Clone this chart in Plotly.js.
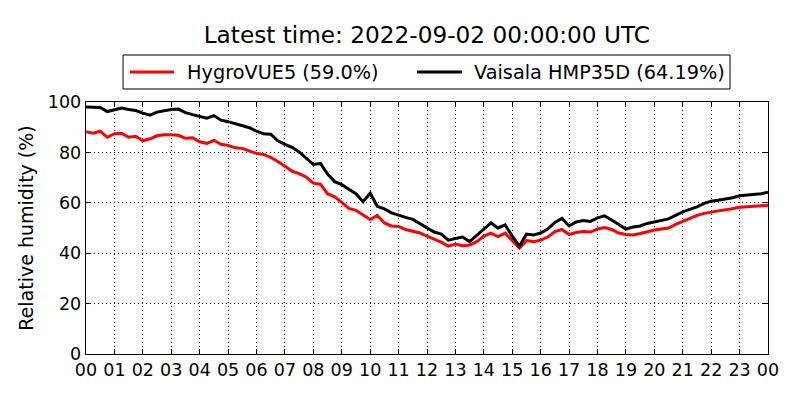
<!DOCTYPE html>
<html>
<head>
<meta charset="utf-8">
<script src="https://cdn.plot.ly/plotly-3.0.1.min.js"></script>
<style>html,body{margin:0;padding:0;background:#fff;}#chart{width:800px;height:400px;}</style>
</head>
<body>
<div id="chart"></div>
<script>
// 15-minute samples from 2022-09-01 00:00 to 2022-09-02 00:00 UTC
var startTime = '2022-09-01T00:00:00Z';
var stepMinutes = 15;

var hygroVUE5 = [
  88.2, 87.6, 88.4, 86.0, 87.4, 87.6, 86.0, 86.4, 84.6, 85.4, 86.6, 87.0,
  87.0, 86.8, 85.6, 85.8, 84.2, 83.6, 84.8, 83.2, 82.8, 81.8, 81.6, 80.6,
  79.6, 79.2, 78.0, 76.4, 74.6, 72.6, 71.6, 70.2, 67.8, 67.4, 63.6, 62.4,
  60.2, 57.8, 57.0, 55.2, 53.4, 55.0, 52.0, 50.8, 50.6, 49.4, 48.8, 48.0,
  46.8, 45.6, 44.4, 42.8, 43.6, 43.0, 43.2, 44.6, 46.8, 48.0, 46.6, 48.0,
  44.8, 42.0, 45.0, 44.6, 45.2, 46.4, 48.6, 49.4, 47.4, 48.2, 48.6, 48.4,
  49.6, 50.2, 49.4, 48.0, 47.4, 47.2, 47.8, 48.6, 49.2, 49.6, 50.0, 51.4,
  52.6, 53.8, 55.0, 55.8, 56.4, 56.8, 57.2, 57.8, 58.2, 58.4, 58.6, 59.0,
  59.0
];

var vaisalaHMP35D = [
  98.0, 97.8, 97.8, 96.2, 97.0, 97.6, 97.0, 96.6, 95.6, 94.8, 96.0, 96.6,
  97.0, 97.2, 95.8, 95.0, 94.2, 93.6, 94.6, 92.8, 92.2, 91.4, 90.6, 89.8,
  88.4, 87.4, 87.2, 84.6, 83.2, 82.0, 80.2, 77.6, 75.2, 75.6, 71.4, 68.4,
  67.2, 65.4, 63.6, 60.4, 63.8, 58.6, 57.6, 56.0, 55.0, 54.2, 53.4, 51.8,
  50.2, 48.4, 47.6, 45.2, 45.8, 46.4, 44.6, 47.0, 49.6, 52.0, 50.0, 51.2,
  46.8, 42.8, 47.6, 47.2, 48.0, 49.6, 52.2, 53.8, 50.8, 52.4, 53.0, 52.6,
  54.0, 54.8, 53.2, 51.4, 49.6, 50.4, 50.8, 51.8, 52.4, 53.0, 53.6, 55.0,
  56.4, 57.4, 58.4, 59.8, 60.6, 61.0, 61.4, 62.0, 62.8, 63.0, 63.2, 63.6,
  64.19
];

var seriesNames = ['HygroVUE5 (59.0%)', 'Vaisala HMP35D (64.19%)'];
var seriesColors = ['#ff0000', '#000000'];
var yTickVals = [0, 20, 40, 60, 80, 100];
var titleText = 'Latest time: 2022-09-02 00:00:00 UTC';
var yTitle = 'Relative humidity (%)';

function times(n) {
  var t0 = Date.parse(startTime);
  var out = [];
  for (var i = 0; i < n; i++) {
    var d = new Date(t0 + i * stepMinutes * 60000);
    out.push(d.toISOString().replace('T', ' ').replace('Z', '').slice(0, 19));
  }
  return out;
}

var font = 'DejaVu Sans, sans-serif';
var traces = [hygroVUE5, vaisalaHMP35D].map(function (vals, k) {
  return {
    type: 'scatter', mode: 'lines',
    x: times(vals.length), y: vals,
    name: seriesNames[k],
    line: {color: seriesColors[k], width: 3},
    showlegend: false
  };
});

// Legend drawn as a boxed key above the plot (matplotlib style)
var legendBox = {x0: 0.0543, x1: 0.9443, y0: 1.0516, y1: 1.1865};
var legendY = 1.119;
var legendLineX = [[0.0645, 0.1290], [0.4853, 0.5513]];
var legendTextX = [0.1466, 0.5675];

var shapes = [{
  type: 'rect', xref: 'paper', yref: 'paper',
  x0: legendBox.x0, x1: legendBox.x1, y0: legendBox.y0, y1: legendBox.y1,
  line: {color: '#000', width: 1}, fillcolor: '#fff'
}];
var annotations = [];
seriesNames.forEach(function (name, k) {
  shapes.push({
    type: 'line', xref: 'paper', yref: 'paper',
    x0: legendLineX[k][0], x1: legendLineX[k][1], y0: legendY, y1: legendY,
    line: {color: seriesColors[k], width: 3}
  });
  annotations.push({
    xref: 'paper', yref: 'paper', x: legendTextX[k], y: legendY,
    xanchor: 'left', yanchor: 'middle', showarrow: false, text: name,
    font: {family: font, size: 19.3, color: '#000'}, borderpad: 0
  });
});

var axisCommon = {
  showline: true, linecolor: '#000', linewidth: 1.3, mirror: 'ticks',
  ticks: 'inside', ticklen: 5, tickcolor: '#000', tickwidth: 1,
  showgrid: true, gridcolor: '#000', gridwidth: 1, griddash: '1px,3px',
  zeroline: false,
  tickfont: {family: font, size: 17.5, color: '#000'}
};

var layout = {
  width: 800, height: 400,
  paper_bgcolor: '#fff', plot_bgcolor: '#fff',
  margin: {l: 86, r: 32, t: 102, b: 46},
  font: {family: font, color: '#000'},
  title: {text: titleText, font: {family: font, size: 23.2, color: '#000'},
          x: 0.5335, xanchor: 'center', y: 0.912, yanchor: 'middle'},
  showlegend: false,
  shapes: shapes,
  annotations: annotations,
  xaxis: Object.assign({}, axisCommon, {
    type: 'date',
    range: ['2022-09-01 00:00:00', '2022-09-02 00:00:00'],
    dtick: 3600000, tickformat: '%H', tick0: '2022-09-01 00:00:00'
  }),
  yaxis: Object.assign({}, axisCommon, {
    range: [0, 100], tickvals: yTickVals,
    title: {text: yTitle, font: {family: font, size: 19, color: '#000'}, standoff: 9}
  })
};

Plotly.newPlot('chart', traces, layout, {displayModeBar: false, staticPlot: true});
</script>
</body>
</html>
